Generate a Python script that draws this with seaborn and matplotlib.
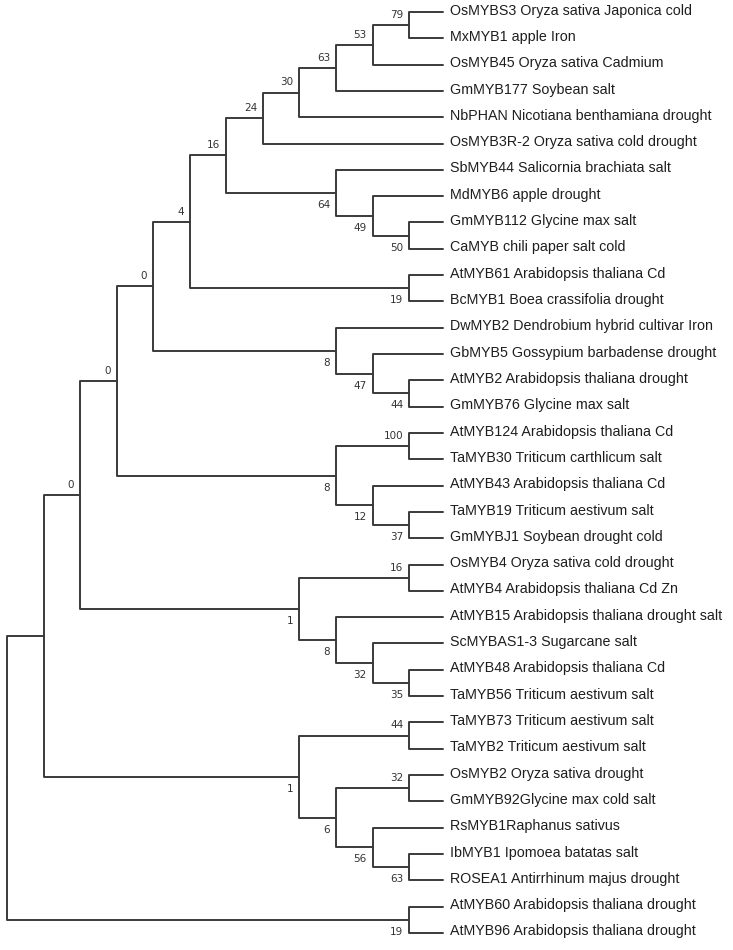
import matplotlib
matplotlib.use("Agg")
import matplotlib.pyplot as plt
import pandas as pd
import seaborn as sns

# leaf labels, top to bottom
leaves = [
    "OsMYBS3 Oryza sativa Japonica cold",
    "MxMYB1 apple Iron",
    "OsMYB45 Oryza sativa Cadmium",
    "GmMYB177 Soybean salt",
    "NbPHAN Nicotiana benthamiana drought",
    "OsMYB3R-2 Oryza sativa cold drought",
    "SbMYB44 Salicornia brachiata salt",
    "MdMYB6 apple drought",
    "GmMYB112 Glycine max salt",
    "CaMYB chili paper salt cold",
    "AtMYB61 Arabidopsis thaliana Cd",
    "BcMYB1 Boea crassifolia drought",
    "DwMYB2 Dendrobium hybrid cultivar Iron",
    "GbMYB5 Gossypium barbadense drought",
    "AtMYB2 Arabidopsis thaliana drought",
    "GmMYB76 Glycine max salt",
    "AtMYB124 Arabidopsis thaliana Cd",
    "TaMYB30 Triticum carthlicum salt",
    "AtMYB43 Arabidopsis thaliana Cd",
    "TaMYB19 Triticum aestivum salt",
    "GmMYBJ1 Soybean drought cold",
    "OsMYB4 Oryza sativa cold drought",
    "AtMYB4 Arabidopsis thaliana Cd Zn",
    "AtMYB15 Arabidopsis thaliana drought salt",
    "ScMYBAS1-3 Sugarcane salt",
    "AtMYB48 Arabidopsis thaliana Cd",
    "TaMYB56 Triticum aestivum salt",
    "TaMYB73 Triticum aestivum salt",
    "TaMYB2 Triticum aestivum salt",
    "OsMYB2 Oryza sativa drought",
    "GmMYB92Glycine max cold salt",
    "RsMYB1Raphanus sativus",
    "IbMYB1 Ipomoea batatas salt",
    "ROSEA1 Antirrhinum majus drought",
    "AtMYB60 Arabidopsis thaliana drought",
    "AtMYB96 Arabidopsis thaliana drought",
]

# topology (leaves by index) with bootstrap values after each clade
newick = ("((((((((((((0,1)79,2)53,3)63,4)30,5)24,(6,(7,(8,9)50)49)64)16,"
          "(10,11)19)4,(12,(13,(14,15)44)47)8)0,((16,17)100,(18,(19,20)37)12)8)0,"
          "((21,22)16,(23,(24,(25,26)35)32)8)1)0,"
          "((27,28)44,((29,30)32,(31,(32,33)63)56)6)1),(34,35)19)")

TIP = 11.93  # x of the leaf tips


def parse(s):
    pos = 0

    def node():
        nonlocal pos
        if s[pos] == "(":
            pos += 1
            kids = [node()]
            while s[pos] == ",":
                pos += 1
                kids.append(node())
            pos += 1
            j = pos
            while pos < len(s) and s[pos].isdigit():
                pos += 1
            return {"kids": kids, "support": s[j:pos]}
        j = pos
        while s[pos].isdigit():
            pos += 1
        return {"leaf": int(s[j:pos])}

    return node()


def layout(n):
    if "leaf" in n:
        n["h"], n["x"], n["y"] = 0, TIP, n["leaf"]
        return
    for k in n["kids"]:
        layout(k)
    n["h"] = 1 + max(k["h"] for k in n["kids"])
    n["x"] = 12 - n["h"]
    n["y"] = (n["kids"][0]["y"] + n["kids"][-1]["y"]) / 2


root = parse(newick)
layout(root)

rows, labels = [], []


def walk(n):
    if "leaf" in n:
        return
    for i, k in enumerate(n["kids"]):
        seg = len(rows)
        for px, py in [(n["x"], n["y"]), (n["x"], k["y"]), (k["x"], k["y"])]:
            rows.append({"seg": seg, "x": px, "y": py})
        if "kids" in k and k["support"]:
            labels.append((k["x"], k["y"], k["support"], i == 0))
        walk(k)


walk(root)
seg_df = pd.DataFrame(rows)
seg_df["seg"] = seg_df["seg"].astype(str)

sns.set_theme(style="white")
fig = plt.figure(figsize=(7.33, 9.5), dpi=100)
ax = fig.add_axes([0, 0, 1, 1])

sns.lineplot(data=seg_df, x="x", y="y", units="seg", estimator=None, sort=False,
             color="#3a3a3a", linewidth=1.4, ax=ax)

for i, name in enumerate(leaves):
    ax.text(TIP + 0.2, i + 0.1, name, ha="left", va="baseline",
            fontsize=10.3, family="Liberation Sans", color="#1e1e1e")

for x, y, s, upper in labels:
    dy = -0.27 if upper else 0.57
    ax.text(x - 0.16, y + dy, s, ha="right", va="baseline",
            fontsize=7.5, family="DejaVu Sans", color="#333333")

ax.set_xlim(-0.1915, 19.863)
ax.set_ylim(35.652, -0.456)
ax.axis("off")

fig.savefig("out.png", dpi=100)
